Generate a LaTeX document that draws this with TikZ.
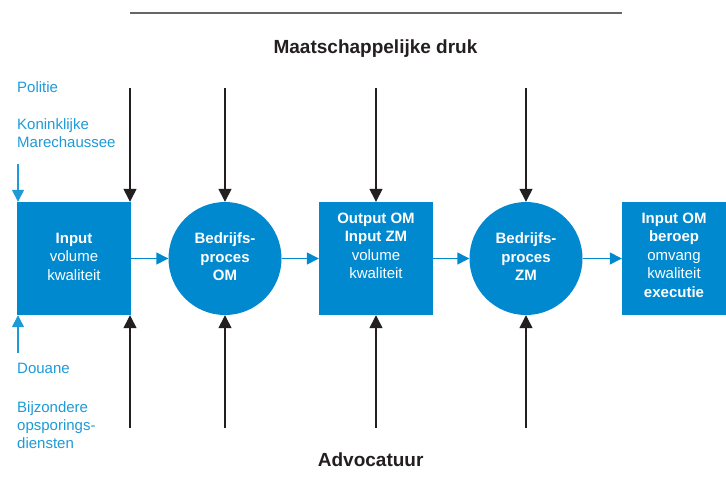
\documentclass[tikz,border=0pt]{standalone}
\usepackage{fontspec}
\setmainfont{Liberation Sans}
\usetikzlibrary{arrows.meta}
\definecolor{omblue}{HTML}{0089CF}
\definecolor{txtblue}{HTML}{1E9BD7}
\definecolor{darkline}{HTML}{231F20}
\begin{document}
\begin{tikzpicture}[x=1pt,y=-1pt,
  shapebox/.style={draw=none,fill=omblue,minimum width=114pt,minimum height=113pt,inner sep=0pt},
  shapecirc/.style={circle,draw=none,fill=omblue,minimum size=113pt,inner sep=0pt},
  intext/.style={text=white,align=center,inner sep=0pt,anchor=north,font=\fontsize{15}{18.6}\selectfont},
  sidetext/.style={text=txtblue,align=left,inner sep=0pt,anchor=north west,font=\fontsize{15}{18.4}\selectfont},
  headtext/.style={text=darkline,inner sep=0pt,anchor=base,font=\fontsize{19}{22}\selectfont\bfseries},
  blackarrow/.style={draw=darkline,line width=1.4pt,-{Triangle[length=13pt,width=13pt]}},
  bluearrow/.style={draw=omblue,line width=1.4pt,-{Triangle[length=12pt,width=12pt]}},
  sidearrow/.style={draw=txtblue,line width=1.5pt,-{Triangle[length=12pt,width=12pt]}}
]
\useasboundingbox (0,0) rectangle (726,499);
\fill[white] (0,0) rectangle (726,499);

% top rule
\coordinate (rulel) at (130,13);
\coordinate (ruler) at (621.5,13);
\draw[draw=black!60,line width=1.3pt] (rulel) -- (ruler);

% headers
\node[headtext] (druk) at (375.5,53.3) {Maatschappelijke druk};
\node[headtext] (advo) at (370.7,466.7) {Advocatuur};

% shapes
\node[shapebox] (b1) at (74,258.5) {};
\node[shapecirc] (c1) at (225,258.5) {};
\node[shapebox] (b2) at (376,258.5) {};
\node[shapecirc] (c2) at (526,258.5) {};
\node[shapebox,minimum width=104pt] (b3) at (674,258.5) {};

% texts in shapes
\node[intext] (t1) at (74,232.5) {\textbf{Input}\\volume\\kwaliteit};
\node[intext] (t2) at (225,232.5) {\textbf{Bedrijfs-}\\\textbf{proces}\\\textbf{OM}};
\node[intext] (t3) at (376,212.5) {\textbf{Output OM}\\\textbf{Input ZM}\\volume\\kwaliteit};
\node[intext] (t4) at (526,232.5) {\textbf{Bedrijfs-}\\\textbf{proces}\\\textbf{ZM}};
\node[intext] (t5) at (674,212.5) {\textbf{Input OM}\\\textbf{beroep}\\omvang\\kwaliteit\\\textbf{executie}};

% horizontal flow arrows
\draw[bluearrow] (b1.east) -- (c1.west);
\draw[bluearrow] (c1.east) -- (b2.west);
\draw[bluearrow] (b2.east) -- (c2.west);
\draw[bluearrow] (c2.east) -- (b3.west);

% black arrows from top
\coordinate (ta1) at (130,88.3);
\coordinate (ta2) at (225,88.3);
\coordinate (ta3) at (376,88.3);
\coordinate (ta4) at (526,88.3);
\draw[blackarrow] (ta1) -- (ta1 |- b1.north);
\draw[blackarrow] (ta2) -- (c1.north);
\draw[blackarrow] (ta3) -- (b2.north);
\draw[blackarrow] (ta4) -- (c2.north);

% black arrows from bottom
\coordinate (ba1) at (130,428);
\coordinate (ba2) at (225,428);
\coordinate (ba3) at (376,428);
\coordinate (ba4) at (526,428);
\draw[blackarrow] (ba1) -- (ba1 |- b1.south);
\draw[blackarrow] (ba2) -- (c1.south);
\draw[blackarrow] (ba3) -- (b2.south);
\draw[blackarrow] (ba4) -- (c2.south);

% side blue arrows
\coordinate (sa1) at (18,164);
\coordinate (sa2) at (18,353);
\draw[sidearrow] (sa1) -- (sa1 |- b1.north);
\draw[sidearrow] (sa2) -- (sa2 |- b1.south);

% side texts
\node[sidetext] (pol) at (17,81) {Politie};
\node[sidetext] (kmar) at (17,118.3) {Koninklijke\\Marechaussee};
\node[sidetext] (dou) at (17,363.3) {Douane};
\node[sidetext] (bod) at (17,401) {Bijzondere\\opsporings-\\diensten};
\end{tikzpicture}
\end{document}
